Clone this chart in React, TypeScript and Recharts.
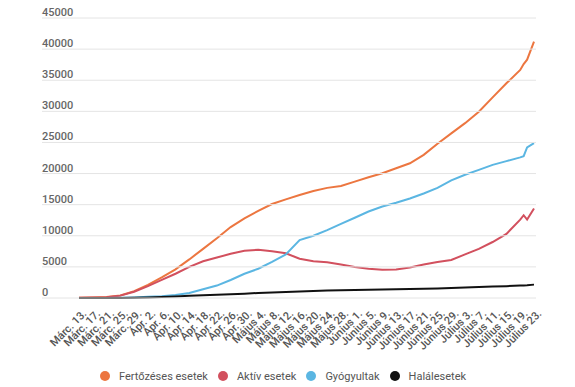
import React from "react";
import { LineChart, Line, XAxis, YAxis, Legend } from "recharts";

const days = [0, 4, 8, 12, 16, 20, 24, 28, 32, 36, 40, 44, 48, 52, 56, 60, 64, 68, 72, 76, 80, 84, 88, 92, 96, 100, 104, 108, 112, 116, 120, 124, 128, 129, 130, 132];

const fertozes = [30, 80, 150, 400, 1100, 2100, 3300, 4600, 6200, 7900, 9600, 11400, 12800, 14000, 15100, 15850, 16550, 17200, 17700, 18000, 18700, 19400, 20050, 20850, 21650, 23000, 24800, 26450, 28100, 29950, 32250, 34500, 36650, 37600, 38300, 41200];
const aktiv = [30, 70, 140, 380, 1000, 1900, 2900, 3900, 5000, 5900, 6500, 7100, 7600, 7750, 7500, 7200, 6300, 5900, 5750, 5400, 5000, 4700, 4550, 4600, 4900, 5400, 5800, 6100, 7000, 7900, 9000, 10300, 12600, 13300, 12600, 14400];
const gyogyult = [0, 0, 10, 40, 100, 200, 300, 500, 800, 1400, 2000, 2900, 3900, 4700, 5800, 7000, 9300, 10000, 10900, 11900, 12900, 13900, 14700, 15300, 16000, 16800, 17700, 18900, 19800, 20600, 21400, 22000, 22600, 22800, 24200, 24900];
const halal = [0, 0, 5, 20, 40, 90, 170, 260, 350, 430, 520, 600, 700, 800, 900, 970, 1060, 1130, 1190, 1230, 1280, 1310, 1350, 1400, 1450, 1500, 1540, 1600, 1690, 1770, 1830, 1900, 2000, 2020, 2050, 2150];

const tickDays = [0, 4, 8, 12, 16, 20, 24, 28, 32, 36, 40, 44, 48, 52, 56, 60, 64, 68, 72, 76, 80, 84, 88, 92, 96, 100, 104, 108, 112, 116, 120, 124, 128, 132];
const tickLabels = ["Márc. 13.", "Márc. 17.", "Márc. 21.", "Márc. 25.", "Márc. 29.", "Ápr. 2.", "Ápr. 6.", "Ápr. 10.", "Ápr. 14.", "Ápr. 18.", "Ápr. 22.", "Ápr. 26.", "Ápr. 30.", "Május 4.", "Május 8.", "Május 12.", "Május 16.", "Május 20.", "Május 24.", "Május 28.", "Június 1.", "Június 5.", "Június 9.", "Június 13.", "Június 17.", "Június 21.", "Június 25.", "Június 29.", "Július 3.", "Július 7.", "Július 11.", "Július 15.", "Július 19.", "Július 23."];
const yTicks = [0, 5000, 10000, 15000, 20000, 25000, 30000, 35000, 40000, 45000];

const series = [
  { key: "fertozes", name: "Fertőzéses esetek", color: "#EC7640" },
  { key: "aktiv", name: "Aktív esetek", color: "#D2505E" },
  { key: "gyogyult", name: "Gyógyultak", color: "#5BB6E2" },
  { key: "halal", name: "Halálesetek", color: "#111111" },
];

const data = days.map((d, i) => ({
  day: d,
  fertozes: fertozes[i],
  aktiv: aktiv[i],
  gyogyult: gyogyult[i],
  halal: halal[i],
}));

const FONT = "Roboto, 'Noto Sans', sans-serif";

const YTick = (props: any) => {
  const { y, payload } = props;
  return (
    <g>
      <line x1={42} x2={536} y1={y} y2={y} stroke="#e4e4e4" strokeWidth={1} />
      <text x={42} y={y - 2} fontSize={11} fill="#666" fontFamily={FONT} fontWeight={500} textAnchor="start">
        {payload.value}
      </text>
    </g>
  );
};

const XTick = (props: any) => {
  const { x, y, payload } = props;
  const idx = tickDays.indexOf(payload.value);
  return (
    <g transform={`translate(${x + 4},${y + 4})`}>
      <text x={0} y={0} dy={6} textAnchor="end" transform="rotate(-45)" fontSize={11} fill="#555" fontWeight={500} fontFamily={FONT}>
        {tickLabels[idx]}
      </text>
    </g>
  );
};

const LegendContent = () => (
  <div style={{ display: "flex", justifyContent: "center", alignItems: "center", height: 22, fontFamily: FONT, fontSize: 11, color: "#555" }}>
    {series.map((s) => (
      <div key={s.key} style={{ display: "flex", alignItems: "center", marginRight: 10 }}>
        <span style={{ display: "inline-block", width: 10, height: 10, borderRadius: 5, background: s.color, marginRight: 9 }} />
        <span>{s.name}</span>
      </div>
    ))}
  </div>
);

export default function App() {
  return (
    <div style={{ position: "absolute", left: 0, top: 0, width: 575, height: 387, background: "#fff" }}>
      <LineChart width={575} height={387} data={data} margin={{ top: 18, right: 41, left: 42, bottom: 0 }}>
        <YAxis
          type="number"
          domain={[0, 45000]}
          ticks={yTicks}
          width={37}
          axisLine={false}
          tickLine={false}
          tick={<YTick />}
          interval={0}
        />
        <XAxis
          dataKey="day"
          type="number"
          domain={[0, 132]}
          ticks={tickDays}
          interval={0}
          height={67}
          axisLine={false}
          tickLine={false}
          tick={<XTick />}
        />
        <Legend verticalAlign="bottom" height={22} content={<LegendContent />} />
        {series.map((s) => (
          <Line
            key={s.key}
            type="linear"
            dataKey={s.key}
            name={s.name}
            stroke={s.color}
            strokeWidth={2}
            dot={false}
            isAnimationActive={false}
          />
        ))}
      </LineChart>
    </div>
  );
}
